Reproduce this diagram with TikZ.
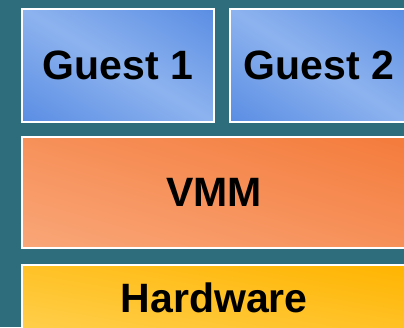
\documentclass[tikz,border=0pt]{standalone}
\usepackage{fontspec}
\setmainfont{Liberation Sans}
\definecolor{bgteal}{HTML}{2E6E7C}
\definecolor{guestdark}{HTML}{5A8DE3}
\definecolor{guestlight}{HTML}{8DB3EF}
\definecolor{vmmdark}{HTML}{F47B3B}
\definecolor{vmmlight}{HTML}{F9A678}
\definecolor{hwdark}{HTML}{FFB400}
\definecolor{hwlight}{HTML}{FFCF4C}
\tikzset{
  layer/.style={draw=white, line width=1.6pt, inner sep=0pt, anchor=north west,
    font=\fontsize{41}{48}\selectfont\bfseries, text=black},
  guestfill/.style={top color=guestdark, bottom color=guestdark, middle color=guestlight},
  vmmfill/.style={top color=vmmdark, bottom color=vmmlight},
  hwfill/.style={top color=hwdark, bottom color=hwlight},
}
% diagonal gradient fill of a rectangle: #1,#2 top-left corner, #3 width, #4 height,
% #5 shading keys; the colour bands run along the top-left to bottom-right diagonal
\newcommand{\layershade}[5]{%
  \begin{scope}
    \clip (#1,#2) rectangle ++(#3,#4);
    \pgfmathsetmacro{\lsang}{atan(#4/#3)}
    \pgfmathsetmacro{\lsd}{#3/veclen(#3,#4)*#4}
    \begin{scope}[transform canvas={shift={(#1+#3/2,#2+#4/2)}, rotate=-\lsang}]
      \shade[#5] (-300,-\lsd) rectangle (300,\lsd);
    \end{scope}
  \end{scope}}
\begin{document}
\begin{tikzpicture}[x=1pt, y=-1pt]
  \useasboundingbox (0,0) rectangle (404,327);
  \clip (0,0) rectangle (404,327);
  \fill[bgteal] (0,0) rectangle (404,327);
  % gradient fills
  \layershade{21}{8}{192}{113}{guestfill}
  \layershade{229}{8}{178}{113}{guestfill}
  \layershade{21}{136}{385}{111}{vmmfill}
  \layershade{21}{264}{385}{67}{hwfill}
  % guest layer
  \node[layer, minimum width=192pt, minimum height=113pt] (g1) at (21,8) {Guest 1};
  \node[layer, minimum width=178pt, minimum height=113pt] (g2) at (229,8) {Guest 2};
  % monitor layer
  \node[layer, minimum width=385pt, minimum height=111pt] (vmm) at (21,136) {VMM};
  % hardware layer
  \node[layer, minimum width=385pt, minimum height=67pt] (hw) at (21,264) {Hardware};
\end{tikzpicture}
\end{document}
